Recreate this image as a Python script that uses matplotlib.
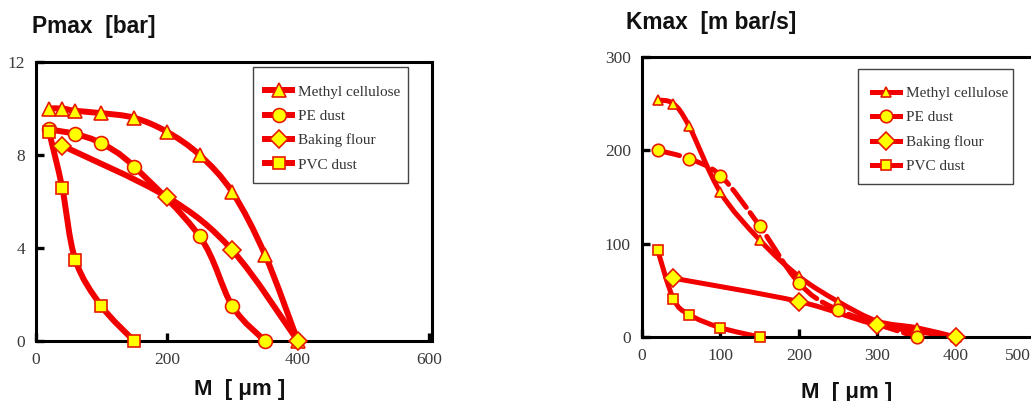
import numpy as np
import matplotlib
matplotlib.use("Agg")
import matplotlib.pyplot as plt
from matplotlib.path import Path
from matplotlib.patches import PathPatch, Rectangle
from matplotlib.lines import Line2D

# ---- data -------------------------------------------------------------
series_names = ["Methyl cellulose", "PE dust", "Baking flour", "PVC dust"]

# Pmax [bar] vs particle size M [um]
p_methyl_x = [20, 40, 60, 100, 150, 200, 250, 300, 350, 400]
p_methyl_y = [10.0, 10.0, 9.9, 9.8, 9.6, 9.0, 8.0, 6.4, 3.7, 0.0]
p_pe_x = [20, 60, 100, 150, 250, 300, 350]
p_pe_y = [9.1, 8.9, 8.5, 7.5, 4.5, 1.5, 0.0]
p_flour_x = [40, 200, 300, 400]
p_flour_y = [8.4, 6.2, 3.9, 0.0]
p_pvc_x = [20, 40, 60, 100, 150]
p_pvc_y = [9.0, 6.6, 3.5, 1.5, 0.0]

# Kmax [m bar/s] vs particle size M [um]
k_methyl_x = [20, 40, 60, 100, 150, 200, 250, 300, 350, 400]
k_methyl_y = [254, 250, 226, 155, 104, 65, 38, 17, 10, 0]
k_pe_x = [20, 60, 100, 150, 200, 250, 350]
k_pe_y = [200, 191, 173, 119, 58, 29, 0]
k_flour_x = [40, 200, 300, 400]
k_flour_y = [63, 38, 13, 0]
k_pvc_x = [20, 40, 60, 100, 150]
k_pvc_y = [93, 41, 24, 10, 0]

p_xticks = [0, 200, 400, 600]
p_yticks = [0, 4, 8, 12]
k_xticks = [0, 100, 200, 300, 400, 500]
k_yticks = [0, 100, 200, 300]

# ---- style ------------------------------------------------------------
RED = "#f20000"
EDGE = "#e81800"
YELLOW = "#ffff00"
markers = ["^", "o", "D", "s"]
SERIF = "Liberation Serif"
SANS = "Liberation Sans"
TICK_COLOR = "#3a3a3a"


def smooth_path(x, y):
    """Catmull-Rom style cubic Bezier path through the points."""
    pts = np.column_stack([x, y]).astype(float)
    verts = [pts[0]]
    codes = [Path.MOVETO]
    n = len(pts)
    for i in range(n - 1):
        p0 = pts[i - 1] if i > 0 else pts[i]
        p1 = pts[i]
        p2 = pts[i + 1]
        p3 = pts[i + 2] if i + 2 < n else pts[i + 1]
        c1 = p1 + (p2 - p0) / 6.0
        c2 = p2 - (p3 - p1) / 6.0
        verts += [c1, c2, p2]
        codes += [Path.CURVE4] * 3
    return Path(verts, codes)


def draw_panel(ax, data, lw, msizes, dashed_idx=None):
    for i, (x, y) in enumerate(data):
        ls = (0, (4.5, 1.3)) if dashed_idx == i else "-"
        patch = PathPatch(smooth_path(x, y), fill=False, edgecolor=RED,
                          lw=lw, linestyle=ls, capstyle="round",
                          joinstyle="round", zorder=2, clip_on=False)
        ax.add_patch(patch)
    for i, (x, y) in enumerate(data):
        ax.plot(x, y, linestyle="none", marker=markers[i], ms=msizes[i],
                mfc=YELLOW, mec=EDGE, mew=1.2, zorder=3, clip_on=False)
    handles = [Line2D([], [], color=RED, lw=lw, marker=markers[i],
                      ms=msizes[i], mfc=YELLOW, mec=EDGE, mew=1.2)
               for i in range(4)]
    return handles


def style_axes(ax, xticks, yticks):
    for s in ax.spines.values():
        s.set_linewidth(2.2)
        s.set_color("black")
    ax.set_xticks(xticks)
    ax.set_yticks(yticks)
    ax.tick_params(direction="in", length=6, width=2.4, color="black",
                   labelsize=12.5, labelcolor=TICK_COLOR, pad=8)
    for lab in ax.get_xticklabels() + ax.get_yticklabels():
        lab.set_fontfamily(SERIF)


def add_legend(ax, handles, anchor, box):
    ax.add_patch(Rectangle(box[:2], box[2], box[3], transform=ax.transAxes,
                           facecolor="white", edgecolor="#444444", lw=1.0,
                           zorder=4, clip_on=False))
    leg = ax.legend(handles, series_names, loc="upper left",
                    bbox_to_anchor=anchor, frameon=False,
                    prop={"family": SERIF, "size": 11}, handlelength=1.8,
                    labelspacing=0.7, borderpad=0, handletextpad=0.4,
                    borderaxespad=0)
    leg.set_zorder(5)
    for t in leg.get_texts():
        t.set_color("#333333")
    return leg


fig = plt.figure(figsize=(10.31, 4.01), dpi=100)

# ---- left: Pmax -------------------------------------------------------
ax1 = fig.add_axes([36 / 1031, 60 / 401, 396 / 1031, 279 / 401])
ax1.set_xlim(0, 605)
ax1.set_ylim(0, 12)
style_axes(ax1, p_xticks, p_yticks)
h1 = draw_panel(ax1,
                [(p_methyl_x, p_methyl_y), (p_pe_x, p_pe_y),
                 (p_flour_x, p_flour_y), (p_pvc_x, p_pvc_y)],
                lw=4.3, msizes=[10, 10, 9, 8])
add_legend(ax1, h1, anchor=(0.578, 0.918), box=(0.548, 0.566, 0.391, 0.416))

# ---- right: Kmax ------------------------------------------------------
ax2 = fig.add_axes([642 / 1031, 64 / 401, 400 / 1031, 280 / 401])
ax2.set_xlim(0, 510)
ax2.set_ylim(0, 300)
style_axes(ax2, k_xticks, k_yticks)
# the last x label sits at the figure edge, so it is nudged inwards
ax2.set_xticklabels([str(v) for v in k_xticks[:-1]] + [""])
ax2.annotate(str(k_xticks[-1]), xy=(k_xticks[-1], 0),
             xycoords=("data", "axes fraction"), xytext=(-12, -8),
             textcoords="offset points", ha="center", va="top",
             fontfamily=SERIF, fontsize=12.5, color=TICK_COLOR,
             annotation_clip=False)
h2 = draw_panel(ax2,
                [(k_methyl_x, k_methyl_y), (k_pe_x, k_pe_y),
                 (k_flour_x, k_flour_y), (k_pvc_x, k_pvc_y)],
                lw=3.6, msizes=[7, 9, 9, 7], dashed_idx=1)
add_legend(ax2, h2, anchor=(0.575, 0.895), box=(0.54, 0.546, 0.3875, 0.411))

# ---- titles and axis labels ------------------------------------------
title_kw = dict(fontfamily=SANS, fontweight="bold", fontsize=16.4,
                color="#111111", va="baseline", ha="left")
fig.text(32 / 1031, 1 - 33 / 401, "Pmax  [bar]", **title_kw)
fig.text(626 / 1031, 1 - 29 / 401, "Kmax  [m bar/s]", **title_kw)

xl_kw = dict(fontfamily=SANS, fontweight="bold", fontsize=16,
             color="#111111", va="baseline", ha="center")
fig.text(240 / 1031, 1 - 395 / 401, "M  [ μm ]", **xl_kw)
fig.text(847 / 1031, 1 - 398 / 401, "M  [ μm ]", **xl_kw)

fig.savefig("out.png", dpi=100)
